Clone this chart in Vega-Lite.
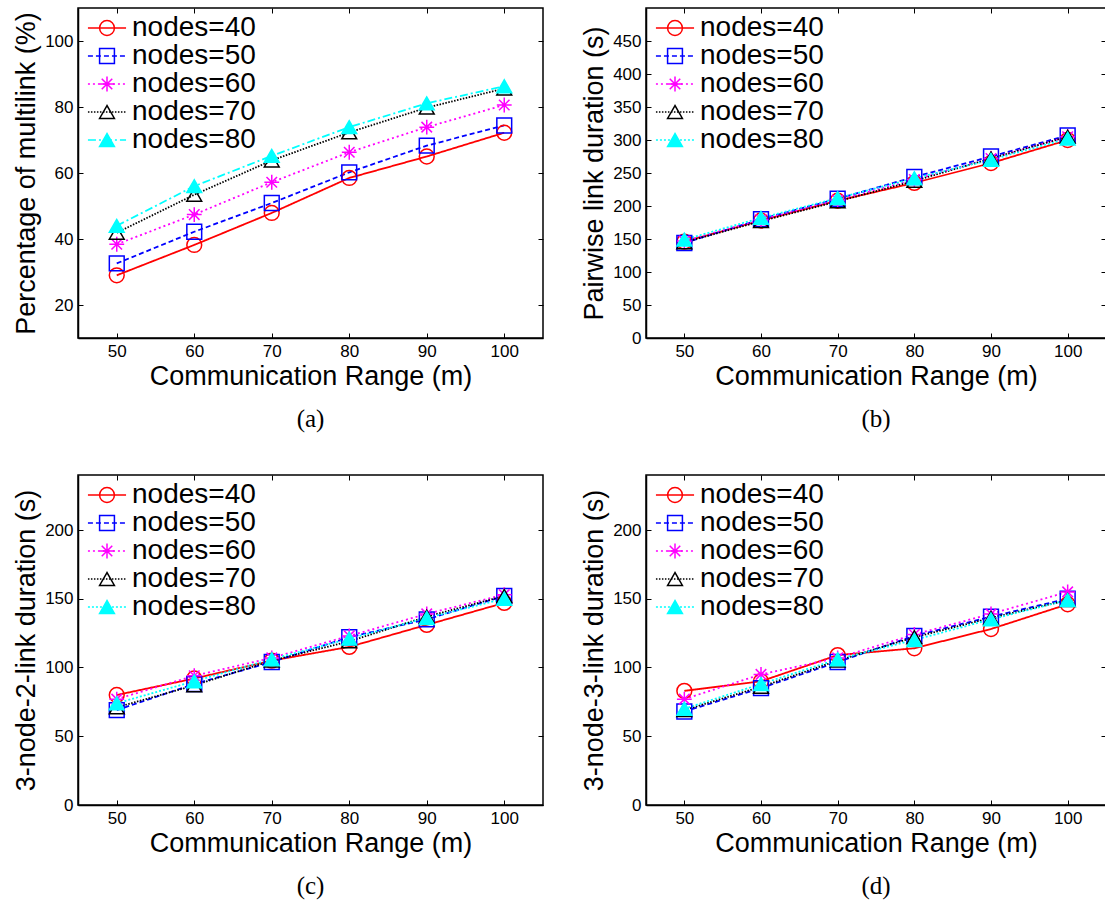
{
  "$schema": "https://vega.github.io/schema/vega-lite/v6.json",
  "padding": {"left": 11, "top": 6, "right": 0, "bottom": 0},
  "background": "white",
  "datasets": {
    "pts": [
      {"panel": "a", "series": "nodes=40", "range": 50, "value": 29.0},
      {"panel": "a", "series": "nodes=40", "range": 60, "value": 38.2},
      {"panel": "a", "series": "nodes=40", "range": 70, "value": 47.9},
      {"panel": "a", "series": "nodes=40", "range": 80, "value": 58.5},
      {"panel": "a", "series": "nodes=40", "range": 90, "value": 65.0},
      {"panel": "a", "series": "nodes=40", "range": 100, "value": 72.2},
      {"panel": "a", "series": "nodes=50", "range": 50, "value": 32.6},
      {"panel": "a", "series": "nodes=50", "range": 60, "value": 42.2},
      {"panel": "a", "series": "nodes=50", "range": 70, "value": 50.9},
      {"panel": "a", "series": "nodes=50", "range": 80, "value": 60.2},
      {"panel": "a", "series": "nodes=50", "range": 90, "value": 68.3},
      {"panel": "a", "series": "nodes=50", "range": 100, "value": 74.4},
      {"panel": "a", "series": "nodes=60", "range": 50, "value": 38.4},
      {"panel": "a", "series": "nodes=60", "range": 60, "value": 47.4},
      {"panel": "a", "series": "nodes=60", "range": 70, "value": 57.2},
      {"panel": "a", "series": "nodes=60", "range": 80, "value": 66.3},
      {"panel": "a", "series": "nodes=60", "range": 90, "value": 73.9},
      {"panel": "a", "series": "nodes=60", "range": 100, "value": 80.6},
      {"panel": "a", "series": "nodes=70", "range": 50, "value": 41.9},
      {"panel": "a", "series": "nodes=70", "range": 60, "value": 53.4},
      {"panel": "a", "series": "nodes=70", "range": 70, "value": 63.8},
      {"panel": "a", "series": "nodes=70", "range": 80, "value": 72.3},
      {"panel": "a", "series": "nodes=70", "range": 90, "value": 79.8},
      {"panel": "a", "series": "nodes=70", "range": 100, "value": 85.6},
      {"panel": "a", "series": "nodes=80", "range": 50, "value": 44.0},
      {"panel": "a", "series": "nodes=80", "range": 60, "value": 56.0},
      {"panel": "a", "series": "nodes=80", "range": 70, "value": 65.2},
      {"panel": "a", "series": "nodes=80", "range": 80, "value": 73.9},
      {"panel": "a", "series": "nodes=80", "range": 90, "value": 81.1},
      {"panel": "a", "series": "nodes=80", "range": 100, "value": 86.3},

      {"panel": "b", "series": "nodes=40", "range": 50, "value": 146},
      {"panel": "b", "series": "nodes=40", "range": 60, "value": 178},
      {"panel": "b", "series": "nodes=40", "range": 70, "value": 208},
      {"panel": "b", "series": "nodes=40", "range": 80, "value": 235},
      {"panel": "b", "series": "nodes=40", "range": 90, "value": 265},
      {"panel": "b", "series": "nodes=40", "range": 100, "value": 300},
      {"panel": "b", "series": "nodes=50", "range": 50, "value": 144},
      {"panel": "b", "series": "nodes=50", "range": 60, "value": 180},
      {"panel": "b", "series": "nodes=50", "range": 70, "value": 211},
      {"panel": "b", "series": "nodes=50", "range": 80, "value": 244},
      {"panel": "b", "series": "nodes=50", "range": 90, "value": 275},
      {"panel": "b", "series": "nodes=50", "range": 100, "value": 307},
      {"panel": "b", "series": "nodes=60", "range": 50, "value": 147},
      {"panel": "b", "series": "nodes=60", "range": 60, "value": 179},
      {"panel": "b", "series": "nodes=60", "range": 70, "value": 209},
      {"panel": "b", "series": "nodes=60", "range": 80, "value": 240},
      {"panel": "b", "series": "nodes=60", "range": 90, "value": 272},
      {"panel": "b", "series": "nodes=60", "range": 100, "value": 305},
      {"panel": "b", "series": "nodes=70", "range": 50, "value": 145},
      {"panel": "b", "series": "nodes=70", "range": 60, "value": 177},
      {"panel": "b", "series": "nodes=70", "range": 70, "value": 207},
      {"panel": "b", "series": "nodes=70", "range": 80, "value": 238},
      {"panel": "b", "series": "nodes=70", "range": 90, "value": 272},
      {"panel": "b", "series": "nodes=70", "range": 100, "value": 305},
      {"panel": "b", "series": "nodes=80", "range": 50, "value": 149},
      {"panel": "b", "series": "nodes=80", "range": 60, "value": 182},
      {"panel": "b", "series": "nodes=80", "range": 70, "value": 212},
      {"panel": "b", "series": "nodes=80", "range": 80, "value": 242},
      {"panel": "b", "series": "nodes=80", "range": 90, "value": 270},
      {"panel": "b", "series": "nodes=80", "range": 100, "value": 302},

      {"panel": "c", "series": "nodes=40", "range": 50, "value": 80},
      {"panel": "c", "series": "nodes=40", "range": 60, "value": 92},
      {"panel": "c", "series": "nodes=40", "range": 70, "value": 105},
      {"panel": "c", "series": "nodes=40", "range": 80, "value": 115},
      {"panel": "c", "series": "nodes=40", "range": 90, "value": 131},
      {"panel": "c", "series": "nodes=40", "range": 100, "value": 147},
      {"panel": "c", "series": "nodes=50", "range": 50, "value": 69},
      {"panel": "c", "series": "nodes=50", "range": 60, "value": 88},
      {"panel": "c", "series": "nodes=50", "range": 70, "value": 104},
      {"panel": "c", "series": "nodes=50", "range": 80, "value": 122},
      {"panel": "c", "series": "nodes=50", "range": 90, "value": 135},
      {"panel": "c", "series": "nodes=50", "range": 100, "value": 152},
      {"panel": "c", "series": "nodes=60", "range": 50, "value": 77},
      {"panel": "c", "series": "nodes=60", "range": 60, "value": 94},
      {"panel": "c", "series": "nodes=60", "range": 70, "value": 107},
      {"panel": "c", "series": "nodes=60", "range": 80, "value": 123},
      {"panel": "c", "series": "nodes=60", "range": 90, "value": 139},
      {"panel": "c", "series": "nodes=60", "range": 100, "value": 153},
      {"panel": "c", "series": "nodes=70", "range": 50, "value": 71},
      {"panel": "c", "series": "nodes=70", "range": 60, "value": 87},
      {"panel": "c", "series": "nodes=70", "range": 70, "value": 105},
      {"panel": "c", "series": "nodes=70", "range": 80, "value": 119},
      {"panel": "c", "series": "nodes=70", "range": 90, "value": 137},
      {"panel": "c", "series": "nodes=70", "range": 100, "value": 152},
      {"panel": "c", "series": "nodes=80", "range": 50, "value": 74},
      {"panel": "c", "series": "nodes=80", "range": 60, "value": 90},
      {"panel": "c", "series": "nodes=80", "range": 70, "value": 106},
      {"panel": "c", "series": "nodes=80", "range": 80, "value": 121},
      {"panel": "c", "series": "nodes=80", "range": 90, "value": 136},
      {"panel": "c", "series": "nodes=80", "range": 100, "value": 150},

      {"panel": "d", "series": "nodes=40", "range": 50, "value": 83},
      {"panel": "d", "series": "nodes=40", "range": 60, "value": 90},
      {"panel": "d", "series": "nodes=40", "range": 70, "value": 109},
      {"panel": "d", "series": "nodes=40", "range": 80, "value": 114},
      {"panel": "d", "series": "nodes=40", "range": 90, "value": 128},
      {"panel": "d", "series": "nodes=40", "range": 100, "value": 146},
      {"panel": "d", "series": "nodes=50", "range": 50, "value": 68},
      {"panel": "d", "series": "nodes=50", "range": 60, "value": 85},
      {"panel": "d", "series": "nodes=50", "range": 70, "value": 104},
      {"panel": "d", "series": "nodes=50", "range": 80, "value": 123},
      {"panel": "d", "series": "nodes=50", "range": 90, "value": 137},
      {"panel": "d", "series": "nodes=50", "range": 100, "value": 150},
      {"panel": "d", "series": "nodes=60", "range": 50, "value": 77},
      {"panel": "d", "series": "nodes=60", "range": 60, "value": 95},
      {"panel": "d", "series": "nodes=60", "range": 70, "value": 107},
      {"panel": "d", "series": "nodes=60", "range": 80, "value": 124},
      {"panel": "d", "series": "nodes=60", "range": 90, "value": 139},
      {"panel": "d", "series": "nodes=60", "range": 100, "value": 155},
      {"panel": "d", "series": "nodes=70", "range": 50, "value": 69},
      {"panel": "d", "series": "nodes=70", "range": 60, "value": 86},
      {"panel": "d", "series": "nodes=70", "range": 70, "value": 105},
      {"panel": "d", "series": "nodes=70", "range": 80, "value": 122},
      {"panel": "d", "series": "nodes=70", "range": 90, "value": 136},
      {"panel": "d", "series": "nodes=70", "range": 100, "value": 149},
      {"panel": "d", "series": "nodes=80", "range": 50, "value": 70},
      {"panel": "d", "series": "nodes=80", "range": 60, "value": 88},
      {"panel": "d", "series": "nodes=80", "range": 70, "value": 106},
      {"panel": "d", "series": "nodes=80", "range": 80, "value": 120},
      {"panel": "d", "series": "nodes=80", "range": 90, "value": 135},
      {"panel": "d", "series": "nodes=80", "range": 100, "value": 149}
    ]
  },
  "data": {"name": "pts"},
  "columns": 2,
  "spacing": {"row": 40, "column": 34},
  "resolve": {
    "scale": {"stroke": "independent", "fill": "independent", "shape": "independent", "strokeDash": "independent"},
    "legend": {"stroke": "independent", "fill": "independent", "shape": "independent", "strokeDash": "independent"}
  },
  "concat": [
    {
      "width": 465,
      "height": 330,
      "title": {"text": "(a)"},
      "transform": [{"filter": "datum.panel === 'a'"}],
      "layer": [
        {
          "mark": {"type": "line", "strokeWidth": 1.8},
          "encoding": {
            "x": {"field": "range", "type": "quantitative", "scale": {"domain": [45, 105]}, "axis": {"values": [50, 60, 70, 80, 90, 100], "title": "Communication Range (m)"}},
            "y": {"field": "value", "type": "quantitative", "scale": {"domain": [10, 110]}, "axis": {"values": [20, 40, 60, 80, 100], "title": "Percentage of multilink (%)"}},
            "stroke": {"field": "series", "type": "nominal", "scale": {"domain": ["nodes=40", "nodes=50", "nodes=60", "nodes=70", "nodes=80"], "range": ["#ff0000", "#0000ff", "#ff00ff", "#000000", "#00ffff"]}, "legend": {"title": null, "rowPadding": -2.2, "symbolType": "M-2.57,0L2.57,0"}},
            "strokeDash": {"field": "series", "type": "nominal", "scale": {"domain": ["nodes=40", "nodes=50", "nodes=60", "nodes=70", "nodes=80"], "range": [[1, 0], [5, 3], [2, 3], [1.5, 1.5], [8, 3, 2, 3]]}, "legend": {"title": null, "rowPadding": -2.2, "symbolType": "M-2.57,0L2.57,0"}}
          }
        },
        {
          "mark": {"type": "point", "filled": false, "size": 220, "strokeWidth": 1.5, "opacity": 1},
          "encoding": {
            "x": {"field": "range", "type": "quantitative", "axis": {"orient": "top", "values": [50, 60, 70, 80, 90, 100], "labels": false, "title": null, "domain": false}},
            "y": {"field": "value", "type": "quantitative", "axis": {"orient": "right", "values": [20, 40, 60, 80, 100], "labels": false, "title": null, "domain": false}},
            "stroke": {"field": "series", "type": "nominal", "scale": {"domain": ["nodes=40", "nodes=50", "nodes=60", "nodes=70", "nodes=80"], "range": ["#ff0000", "#0000ff", "#ff00ff", "#000000", "#00ffff"]}, "legend": {"title": null, "rowPadding": -2.2, "labelOpacity": 0}},
            "shape": {"field": "series", "type": "nominal", "scale": {"domain": ["nodes=40", "nodes=50", "nodes=60", "nodes=70", "nodes=80"], "range": ["circle", "square", "M-1,0L1,0M0,-1L0,1M-0.71,-0.71L0.71,0.71M-0.71,0.71L0.71,-0.71", "triangle-up", "triangle-up"]}, "legend": {"title": null, "rowPadding": -2.2, "labelOpacity": 0}},
            "fill": {"field": "series", "type": "nominal", "scale": {"domain": ["nodes=40", "nodes=50", "nodes=60", "nodes=70", "nodes=80"], "range": ["transparent", "transparent", "transparent", "transparent", "#00ffff"]}, "legend": {"title": null, "rowPadding": -2.2, "labelOpacity": 0}}
          }
        }
      ],
      "resolve": {
        "axis": {"x": "independent", "y": "independent"},
        "legend": {"stroke": "independent", "fill": "independent", "shape": "independent", "strokeDash": "independent"}
      }
    },
    {
      "width": 460,
      "height": 330,
      "title": {"text": "(b)"},
      "transform": [{"filter": "datum.panel === 'b'"}],
      "layer": [
        {
          "mark": {"type": "line", "strokeWidth": 1.8},
          "encoding": {
            "x": {"field": "range", "type": "quantitative", "scale": {"domain": [45, 104.4]}, "axis": {"values": [50, 60, 70, 80, 90, 100], "title": "Communication Range (m)"}},
            "y": {"field": "value", "type": "quantitative", "scale": {"domain": [0, 480]}, "axis": {"values": [0, 50, 100, 150, 200, 250, 300, 350, 400, 450], "title": "Pairwise link duration (s)"}},
            "stroke": {"field": "series", "type": "nominal", "scale": {"domain": ["nodes=40", "nodes=50", "nodes=60", "nodes=70", "nodes=80"], "range": ["#ff0000", "#0000ff", "#ff00ff", "#000000", "#00ffff"]}, "legend": {"title": null, "rowPadding": -2.2, "symbolType": "M-2.57,0L2.57,0"}},
            "strokeDash": {"field": "series", "type": "nominal", "scale": {"domain": ["nodes=40", "nodes=50", "nodes=60", "nodes=70", "nodes=80"], "range": [[1, 0], [5, 3], [2, 3], [1.5, 1.5], [2, 2]]}, "legend": {"title": null, "rowPadding": -2.2, "symbolType": "M-2.57,0L2.57,0"}}
          }
        },
        {
          "mark": {"type": "point", "filled": false, "size": 220, "strokeWidth": 1.5, "opacity": 1},
          "encoding": {
            "x": {"field": "range", "type": "quantitative", "axis": {"orient": "top", "values": [50, 60, 70, 80, 90, 100], "labels": false, "title": null, "domain": false}},
            "y": {"field": "value", "type": "quantitative", "axis": {"orient": "right", "values": [0, 50, 100, 150, 200, 250, 300, 350, 400, 450], "labels": false, "title": null, "domain": false}},
            "stroke": {"field": "series", "type": "nominal", "scale": {"domain": ["nodes=40", "nodes=50", "nodes=60", "nodes=70", "nodes=80"], "range": ["#ff0000", "#0000ff", "#ff00ff", "#000000", "#00ffff"]}, "legend": {"title": null, "rowPadding": -2.2, "labelOpacity": 0}},
            "shape": {"field": "series", "type": "nominal", "scale": {"domain": ["nodes=40", "nodes=50", "nodes=60", "nodes=70", "nodes=80"], "range": ["circle", "square", "M-1,0L1,0M0,-1L0,1M-0.71,-0.71L0.71,0.71M-0.71,0.71L0.71,-0.71", "triangle-up", "triangle-up"]}, "legend": {"title": null, "rowPadding": -2.2, "labelOpacity": 0}},
            "fill": {"field": "series", "type": "nominal", "scale": {"domain": ["nodes=40", "nodes=50", "nodes=60", "nodes=70", "nodes=80"], "range": ["transparent", "transparent", "transparent", "transparent", "#00ffff"]}, "legend": {"title": null, "rowPadding": -2.2, "labelOpacity": 0}}
          }
        }
      ],
      "resolve": {
        "axis": {"x": "independent", "y": "independent"},
        "legend": {"stroke": "independent", "fill": "independent", "shape": "independent", "strokeDash": "independent"}
      }
    },
    {
      "width": 465,
      "height": 330,
      "title": {"text": "(c)"},
      "transform": [{"filter": "datum.panel === 'c'"}],
      "layer": [
        {
          "mark": {"type": "line", "strokeWidth": 1.8},
          "encoding": {
            "x": {"field": "range", "type": "quantitative", "scale": {"domain": [45, 105]}, "axis": {"values": [50, 60, 70, 80, 90, 100], "title": "Communication Range (m)"}},
            "y": {"field": "value", "type": "quantitative", "scale": {"domain": [0, 240]}, "axis": {"values": [0, 50, 100, 150, 200], "title": "3-node-2-link duration (s)"}},
            "stroke": {"field": "series", "type": "nominal", "scale": {"domain": ["nodes=40", "nodes=50", "nodes=60", "nodes=70", "nodes=80"], "range": ["#ff0000", "#0000ff", "#ff00ff", "#000000", "#00ffff"]}, "legend": {"title": null, "rowPadding": -2.2, "symbolType": "M-2.57,0L2.57,0"}},
            "strokeDash": {"field": "series", "type": "nominal", "scale": {"domain": ["nodes=40", "nodes=50", "nodes=60", "nodes=70", "nodes=80"], "range": [[1, 0], [5, 3], [2, 3], [1.5, 1.5], [2, 2]]}, "legend": {"title": null, "rowPadding": -2.2, "symbolType": "M-2.57,0L2.57,0"}}
          }
        },
        {
          "mark": {"type": "point", "filled": false, "size": 220, "strokeWidth": 1.5, "opacity": 1},
          "encoding": {
            "x": {"field": "range", "type": "quantitative", "axis": {"orient": "top", "values": [50, 60, 70, 80, 90, 100], "labels": false, "title": null, "domain": false}},
            "y": {"field": "value", "type": "quantitative", "axis": {"orient": "right", "values": [0, 50, 100, 150, 200], "labels": false, "title": null, "domain": false}},
            "stroke": {"field": "series", "type": "nominal", "scale": {"domain": ["nodes=40", "nodes=50", "nodes=60", "nodes=70", "nodes=80"], "range": ["#ff0000", "#0000ff", "#ff00ff", "#000000", "#00ffff"]}, "legend": {"title": null, "rowPadding": -2.2, "labelOpacity": 0}},
            "shape": {"field": "series", "type": "nominal", "scale": {"domain": ["nodes=40", "nodes=50", "nodes=60", "nodes=70", "nodes=80"], "range": ["circle", "square", "M-1,0L1,0M0,-1L0,1M-0.71,-0.71L0.71,0.71M-0.71,0.71L0.71,-0.71", "triangle-up", "triangle-up"]}, "legend": {"title": null, "rowPadding": -2.2, "labelOpacity": 0}},
            "fill": {"field": "series", "type": "nominal", "scale": {"domain": ["nodes=40", "nodes=50", "nodes=60", "nodes=70", "nodes=80"], "range": ["transparent", "transparent", "transparent", "transparent", "#00ffff"]}, "legend": {"title": null, "rowPadding": -2.2, "labelOpacity": 0}}
          }
        }
      ],
      "resolve": {
        "axis": {"x": "independent", "y": "independent"},
        "legend": {"stroke": "independent", "fill": "independent", "shape": "independent", "strokeDash": "independent"}
      }
    },
    {
      "width": 460,
      "height": 330,
      "title": {"text": "(d)"},
      "transform": [{"filter": "datum.panel === 'd'"}],
      "layer": [
        {
          "mark": {"type": "line", "strokeWidth": 1.8},
          "encoding": {
            "x": {"field": "range", "type": "quantitative", "scale": {"domain": [45, 104.4]}, "axis": {"values": [50, 60, 70, 80, 90, 100], "title": "Communication Range (m)"}},
            "y": {"field": "value", "type": "quantitative", "scale": {"domain": [0, 240]}, "axis": {"values": [0, 50, 100, 150, 200], "title": "3-node-3-link duration (s)"}},
            "stroke": {"field": "series", "type": "nominal", "scale": {"domain": ["nodes=40", "nodes=50", "nodes=60", "nodes=70", "nodes=80"], "range": ["#ff0000", "#0000ff", "#ff00ff", "#000000", "#00ffff"]}, "legend": {"title": null, "rowPadding": -2.2, "symbolType": "M-2.57,0L2.57,0"}},
            "strokeDash": {"field": "series", "type": "nominal", "scale": {"domain": ["nodes=40", "nodes=50", "nodes=60", "nodes=70", "nodes=80"], "range": [[1, 0], [5, 3], [2, 3], [1.5, 1.5], [2, 2]]}, "legend": {"title": null, "rowPadding": -2.2, "symbolType": "M-2.57,0L2.57,0"}}
          }
        },
        {
          "mark": {"type": "point", "filled": false, "size": 220, "strokeWidth": 1.5, "opacity": 1},
          "encoding": {
            "x": {"field": "range", "type": "quantitative", "axis": {"orient": "top", "values": [50, 60, 70, 80, 90, 100], "labels": false, "title": null, "domain": false}},
            "y": {"field": "value", "type": "quantitative", "axis": {"orient": "right", "values": [0, 50, 100, 150, 200], "labels": false, "title": null, "domain": false}},
            "stroke": {"field": "series", "type": "nominal", "scale": {"domain": ["nodes=40", "nodes=50", "nodes=60", "nodes=70", "nodes=80"], "range": ["#ff0000", "#0000ff", "#ff00ff", "#000000", "#00ffff"]}, "legend": {"title": null, "rowPadding": -2.2, "labelOpacity": 0}},
            "shape": {"field": "series", "type": "nominal", "scale": {"domain": ["nodes=40", "nodes=50", "nodes=60", "nodes=70", "nodes=80"], "range": ["circle", "square", "M-1,0L1,0M0,-1L0,1M-0.71,-0.71L0.71,0.71M-0.71,0.71L0.71,-0.71", "triangle-up", "triangle-up"]}, "legend": {"title": null, "rowPadding": -2.2, "labelOpacity": 0}},
            "fill": {"field": "series", "type": "nominal", "scale": {"domain": ["nodes=40", "nodes=50", "nodes=60", "nodes=70", "nodes=80"], "range": ["transparent", "transparent", "transparent", "transparent", "#00ffff"]}, "legend": {"title": null, "rowPadding": -2.2, "labelOpacity": 0}}
          }
        }
      ],
      "resolve": {
        "axis": {"x": "independent", "y": "independent"},
        "legend": {"stroke": "independent", "fill": "independent", "shape": "independent", "strokeDash": "independent"}
      }
    }
  ],
  "config": {
    "font": "Liberation Sans",
    "view": {"stroke": "#000000", "strokeWidth": 1.5},
    "axis": {
      "grid": false,
      "labelFont": "Liberation Sans",
      "labelFontSize": 17,
      "labelColor": "#000000",
      "titleFont": "Liberation Sans",
      "titleFontSize": 27,
      "titleFontWeight": "normal",
      "titleColor": "#000000",
      "tickColor": "#000000",
      "tickSize": -5,
      "tickWidth": 1,
      "labelPadding": 10,
      "titlePadding": 4,
      "domainColor": "#000000",
      "domainWidth": 1.5
    },
    "legend": {
      "orient": "none",
      "legendX": 15,
      "legendY": 6,
      "padding": 0,
      "labelFont": "Liberation Sans",
      "labelFontSize": 28,
      "labelColor": "#000000",
      "labelOffset": 11,
      "rowPadding": -2.2,
      "symbolSize": 220,
      "symbolStrokeWidth": 1.5
    },
    "title": {
      "orient": "bottom",
      "anchor": "middle",
      "frame": "group",
      "font": "Liberation Serif",
      "fontSize": 25,
      "fontWeight": "normal",
      "color": "#000000",
      "offset": 18
    }
  }
}
